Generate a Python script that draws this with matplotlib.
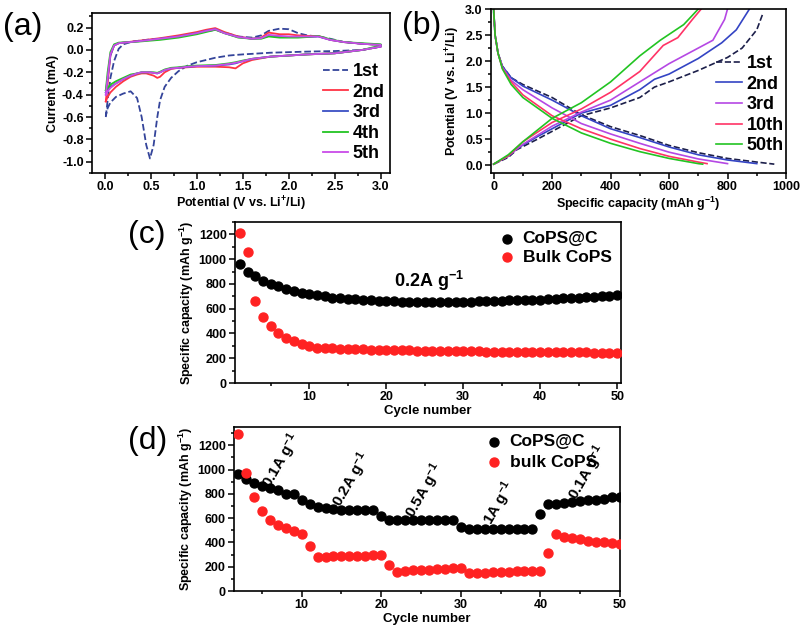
import matplotlib
matplotlib.use("Agg")
import matplotlib.pyplot as plt
from matplotlib.ticker import MultipleLocator

plt.rcParams['font.family'] = ['Liberation Sans', 'DejaVu Sans']
plt.rcParams['font.weight'] = 'bold'
plt.rcParams['axes.labelweight'] = 'bold'
plt.rcParams['mathtext.fontset'] = 'custom'
plt.rcParams['mathtext.rm'] = 'Liberation Sans:bold'
plt.rcParams['mathtext.it'] = 'Liberation Sans:bold'
plt.rcParams['mathtext.bf'] = 'Liberation Sans:bold'
plt.rcParams['mathtext.default'] = 'bf'

# ---- (a) cyclic voltammetry ----
cv_up_v = [0.01, 0.03, 0.06, 0.1, 0.15, 0.2, 0.3, 0.45, 0.6, 0.8, 1.0, 1.1, 1.2, 1.3,
           1.45, 1.6, 1.7, 1.78, 1.9, 2.0, 2.1, 2.2, 2.32, 2.45, 2.6, 2.8, 3.0]
cv_down_v = [3.0, 2.8, 2.5, 2.2, 2.0, 1.8, 1.6, 1.5, 1.42, 1.35, 1.2, 1.0, 0.9, 0.8, 0.72,
             0.65, 0.6, 0.57, 0.53, 0.49, 0.45, 0.4, 0.35, 0.28, 0.2, 0.12, 0.06, 0.03, 0.01]

cv1_up = [-0.6, -0.45, -0.25, -0.1, 0.01, 0.05, 0.075, 0.09, 0.1, 0.12, 0.15, 0.165, 0.18, 0.155,
          0.12, 0.11, 0.13, 0.17, 0.19, 0.185, 0.15, 0.13, 0.12, 0.1, 0.07, 0.055, 0.045]
cv1_down = [0.03, 0.0, -0.01, -0.015, -0.02, -0.025, -0.035, -0.04, -0.045, -0.05, -0.07, -0.11,
            -0.14, -0.19, -0.25, -0.33, -0.45, -0.6, -0.85, -0.97, -0.85, -0.6, -0.43, -0.37,
            -0.39, -0.42, -0.47, -0.52, -0.59]
cv2_up = [-0.46, -0.3, -0.05, 0.04, 0.06, 0.065, 0.075, 0.09, 0.105, 0.13, 0.16, 0.18, 0.195, 0.16,
          0.12, 0.1, 0.11, 0.155, 0.14, 0.14, 0.13, 0.125, 0.125, 0.09, 0.07, 0.055, 0.045]
cv2_down = [0.03, 0.0, -0.03, -0.04, -0.05, -0.06, -0.09, -0.12, -0.165, -0.155, -0.15, -0.15,
            -0.155, -0.16, -0.17, -0.2, -0.24, -0.25, -0.23, -0.22, -0.21, -0.21, -0.22, -0.24,
            -0.28, -0.33, -0.38, -0.42, -0.46]
cv3_up = [-0.38, -0.25, -0.05, 0.04, 0.06, 0.065, 0.072, 0.085, 0.1, 0.12, 0.15, 0.17, 0.185, 0.15,
          0.115, 0.1, 0.105, 0.125, 0.12, 0.115, 0.115, 0.115, 0.12, 0.09, 0.07, 0.055, 0.045]
cv3_down = [0.03, 0.0, -0.03, -0.04, -0.05, -0.06, -0.08, -0.1, -0.12, -0.13, -0.14, -0.145,
            -0.15, -0.16, -0.165, -0.18, -0.2, -0.21, -0.205, -0.2, -0.2, -0.2, -0.21, -0.23,
            -0.26, -0.3, -0.33, -0.36, -0.38]
cv4_up = [-0.36, -0.2, -0.02, 0.05, 0.065, 0.068, 0.07, 0.08, 0.09, 0.11, 0.14, 0.16, 0.18, 0.15,
          0.11, 0.1, 0.1, 0.12, 0.11, 0.11, 0.11, 0.115, 0.125, 0.095, 0.07, 0.06, 0.05]
cv4_down = [0.04, 0.0, -0.03, -0.04, -0.05, -0.06, -0.08, -0.095, -0.11, -0.12, -0.135, -0.14,
            -0.145, -0.155, -0.16, -0.175, -0.195, -0.205, -0.2, -0.2, -0.2, -0.2, -0.21, -0.22,
            -0.25, -0.28, -0.31, -0.34, -0.36]
cv5_up = [-0.4, -0.25, -0.04, 0.04, 0.06, 0.065, 0.072, 0.085, 0.1, 0.12, 0.15, 0.17, 0.185, 0.15,
          0.115, 0.1, 0.105, 0.135, 0.125, 0.12, 0.12, 0.12, 0.12, 0.09, 0.07, 0.055, 0.045]
cv5_down = [0.03, 0.0, -0.03, -0.04, -0.05, -0.06, -0.08, -0.1, -0.115, -0.125, -0.14, -0.145,
            -0.15, -0.16, -0.165, -0.18, -0.2, -0.21, -0.205, -0.2, -0.2, -0.2, -0.21, -0.23,
            -0.26, -0.3, -0.34, -0.37, -0.4]

# ---- (b) charge / discharge profiles ----
dis1_cap = [0, 5, 15, 30, 60, 100, 200, 300, 400, 500, 600, 700, 800, 900, 960]
dis1_v = [2.95, 2.5, 2.15, 1.9, 1.68, 1.55, 1.3, 0.97, 0.74, 0.57, 0.38, 0.24, 0.13, 0.06, 0.02]
chg1_cap = [0, 50, 80, 150, 250, 300, 400, 500, 550, 600, 700, 800, 850, 900, 920]
chg1_v = [0.02, 0.15, 0.3, 0.5, 0.8, 0.95, 1.1, 1.3, 1.5, 1.6, 1.82, 2.07, 2.25, 2.6, 2.9]

dis2_cap = [0, 5, 15, 30, 60, 100, 200, 300, 400, 500, 600, 700, 800, 900]
dis2_v = [3.0, 2.5, 2.15, 1.9, 1.68, 1.52, 1.25, 0.95, 0.7, 0.53, 0.35, 0.2, 0.1, 0.03]
chg2_cap = [0, 50, 80, 150, 250, 300, 400, 500, 550, 600, 700, 780, 830, 875]
chg2_v = [0.02, 0.17, 0.32, 0.55, 0.85, 1.0, 1.15, 1.45, 1.65, 1.75, 2.05, 2.35, 2.6, 3.0]

dis3_cap = [0, 5, 15, 30, 60, 100, 200, 300, 400, 500, 600, 700, 800]
dis3_v = [3.0, 2.5, 2.15, 1.88, 1.63, 1.45, 1.1, 0.8, 0.6, 0.42, 0.25, 0.12, 0.03]
chg3_cap = [0, 50, 100, 200, 300, 400, 500, 600, 700, 750, 790, 800]
chg3_v = [0.02, 0.18, 0.4, 0.75, 1.02, 1.25, 1.6, 1.95, 2.25, 2.4, 2.8, 3.0]

dis10_cap = [0, 5, 15, 30, 60, 100, 200, 300, 400, 500, 600, 700, 730]
dis10_v = [3.0, 2.5, 2.15, 1.86, 1.6, 1.35, 0.95, 0.7, 0.5, 0.32, 0.17, 0.06, 0.03]
chg10_cap = [0, 50, 100, 200, 300, 400, 500, 580, 630, 680, 710]
chg10_v = [0.02, 0.18, 0.45, 0.82, 1.08, 1.4, 1.8, 2.3, 2.45, 2.8, 3.0]

dis50_cap = [0, 5, 15, 30, 60, 100, 200, 300, 400, 500, 600, 700, 715]
dis50_v = [3.0, 2.5, 2.15, 1.85, 1.55, 1.3, 0.9, 0.62, 0.42, 0.26, 0.13, 0.03, 0.02]
chg50_cap = [0, 50, 100, 200, 300, 400, 500, 570, 650, 700]
chg50_v = [0.02, 0.2, 0.45, 0.9, 1.2, 1.6, 2.1, 2.4, 2.7, 3.0]

# ---- (c) cycling at 0.2 A/g ----
c_cycles = list(range(1, 51))
c_cops_c = [960, 900, 860, 825, 800, 780, 760, 745, 730, 715,
            708, 700, 690, 685, 680, 675, 670, 667, 663, 660,
            660, 658, 655, 653, 654, 655, 653, 653, 655, 657,
            658, 660, 662, 663, 665, 667, 668, 668, 670, 673,
            677, 680, 685, 688, 690, 695, 698, 700, 705, 712]
c_bulk = [1215, 1060, 665, 535, 460, 400, 360, 340, 315, 295,
          285, 283, 280, 275, 273, 272, 271, 270, 268, 266,
          265, 265, 263, 262, 260, 260, 260, 258, 257, 256,
          255, 255, 254, 253, 252, 252, 251, 250, 250, 250,
          249, 249, 248, 248, 247, 247, 246, 246, 246, 245]

# ---- (d) rate capability ----
d_cycles = list(range(2, 51))
d_cops_c = [960, 920, 885, 865, 850, 830, 800, 795, 750,
            715, 695, 680, 675, 665, 665, 665, 665, 665, 620,
            585, 585, 585, 585, 585, 585, 585, 585, 585, 530,
            510, 510, 510, 510, 510, 510, 510, 510, 510, 630,
            715, 720, 725, 730, 740, 745, 750, 755, 770, 775]
d_bulk = [1290, 975, 770, 660, 585, 545, 515, 490, 470,
          370, 280, 280, 290, 290, 290, 290, 290, 295, 295,
          215, 160, 165, 170, 175, 175, 180, 185, 190, 190,
          145, 145, 150, 155, 158, 160, 162, 163, 165, 168,
          310, 470, 445, 435, 425, 415, 405, 400, 395, 390]
rate_labels = ["0.1A g$^{-1}$", "0.2A g$^{-1}$", "0.5A g$^{-1}$", "1A g$^{-1}$", "0.1A g$^{-1}$"]
rate_label_x = [7.5, 16.3, 25.4, 34.8, 45.9]
rate_label_y = [1075, 917, 825, 725, 975]

W, H = 802, 626
fig = plt.figure(figsize=(W / 100, H / 100), dpi=100)


def px_axes(l, t, r, b):
    return fig.add_axes([l / W, 1 - b / H, (r - l) / W, (b - t) / H])


def style(ax):
    for s in ax.spines.values():
        s.set_linewidth(1.2)
    ax.tick_params(which='both', direction='out', width=1.1, labelsize=9, pad=2)
    ax.tick_params(which='major', length=4)
    ax.tick_params(which='minor', length=2)


def fig_legend(ax, x, y, **kw):
    return ax.legend(loc='upper left', bbox_to_anchor=(x / W, 1 - y / H),
                     bbox_transform=fig.transFigure, frameon=False,
                     borderpad=0, borderaxespad=0, **kw)


# (a)
ax = px_axes(92, 13, 390, 173)
ax.plot(cv_up_v + cv_down_v, cv1_up + cv1_down, '--', color='#34449a', lw=1.3, label='1st')
ax.plot(cv_up_v + cv_down_v, cv2_up + cv2_down, color='#ff3344', lw=1.3, label='2nd')
ax.plot(cv_up_v + cv_down_v, cv3_up + cv3_down, color='#3a4fc4', lw=1.3, label='3rd')
ax.plot(cv_up_v + cv_down_v, cv4_up + cv4_down, color='#22c422', lw=1.3, label='4th')
ax.plot(cv_up_v + cv_down_v, cv5_up + cv5_down, color='#c94be8', lw=1.3, label='5th')
ax.set_xlim(-0.14, 3.1)
ax.set_ylim(-1.1, 0.33)
ax.xaxis.set_minor_locator(MultipleLocator(0.25))
ax.yaxis.set_minor_locator(MultipleLocator(0.1))
ax.set_xticks([0, 0.5, 1.0, 1.5, 2.0, 2.5, 3.0])
ax.set_xticklabels(['0.0', '0.5', '1.0', '1.5', '2.0', '2.5', '3.0'])
ax.set_yticks([-1.0, -0.8, -0.6, -0.4, -0.2, 0.0, 0.2])
ax.set_yticklabels(['-1.0', '-0.8', '-0.6', '-0.4', '-0.2', '0.0', '0.2'])
style(ax)
ax.set_xlabel("Potential (V vs. Li$^{+}$/Li)", fontsize=9, labelpad=1)
ax.set_ylabel("Current (mA)", fontsize=9, labelpad=2)
fig_legend(ax, 323, 63, fontsize=13, handlelength=1.4, handletextpad=0.25, labelspacing=0.2)

# (b)
ax = px_axes(491, 9, 786, 173)
ax.plot(dis1_cap, dis1_v, '--', color='#1c1f4a', lw=1.2, label='1st')
ax.plot(chg1_cap, chg1_v, '--', color='#1c1f4a', lw=1.2)
ax.plot(dis2_cap, dis2_v, color='#3444c4', lw=1.2, label='2nd')
ax.plot(chg2_cap, chg2_v, color='#3444c4', lw=1.2)
ax.plot(dis3_cap, dis3_v, color='#b548e4', lw=1.2, label='3rd')
ax.plot(chg3_cap, chg3_v, color='#b548e4', lw=1.2)
ax.plot(dis10_cap, dis10_v, color='#ff3366', lw=1.2, label='10th')
ax.plot(chg10_cap, chg10_v, color='#ff3366', lw=1.2)
ax.plot(dis50_cap, dis50_v, color='#22c422', lw=1.2, label='50th')
ax.plot(chg50_cap, chg50_v, color='#22c422', lw=1.2)
ax.set_xlim(-9, 1000)
ax.set_ylim(-0.15, 3.0)
ax.xaxis.set_major_locator(MultipleLocator(200))
ax.xaxis.set_minor_locator(MultipleLocator(100))
ax.set_yticks([0, 0.5, 1.0, 1.5, 2.0, 2.5, 3.0])
ax.set_yticklabels(['0.0', '0.5', '1.0', '1.5', '2.0', '2.5', '3.0'])
ax.yaxis.set_minor_locator(MultipleLocator(0.25))
style(ax)
ax.set_xlabel("Specific capacity (mAh g$^{-1}$)", fontsize=9, labelpad=1)
ax.set_ylabel("Potential (V vs. Li$^{+}$/Li)", fontsize=9, labelpad=2)
fig_legend(ax, 716, 55, fontsize=13, handlelength=1.45, handletextpad=0.25, labelspacing=0.2)

# (c)
ax = px_axes(235, 222, 621, 383)
ax.scatter(c_cycles, c_cops_c, s=42, color='black', label='CoPS@C', zorder=3)
ax.scatter(c_cycles, c_bulk, s=42, color='#ff2222', label='Bulk CoPS', zorder=3)
ax.set_xlim(0.35, 50.5)
ax.set_ylim(0, 1300)
ax.xaxis.set_major_locator(MultipleLocator(10))
ax.xaxis.set_minor_locator(MultipleLocator(5))
ax.yaxis.set_major_locator(MultipleLocator(200))
ax.yaxis.set_minor_locator(MultipleLocator(100))
style(ax)
ax.set_xlabel("Cycle number", fontsize=9.5, labelpad=1)
ax.set_ylabel("Specific capacity (mAh g$^{-1}$)", fontsize=9, labelpad=2)
ax.text(25.6, 824, "0.2A g$^{-1}$", fontsize=13, ha='center', va='center')
fig_legend(ax, 500, 231, fontsize=12.5, handlelength=0.8, handletextpad=0.5,
           labelspacing=0.2, scatterpoints=1)

# (d)
ax = px_axes(234, 427, 620, 591)
ax.scatter(d_cycles, d_cops_c, s=42, color='black', label='CoPS@C', zorder=3)
ax.scatter(d_cycles, d_bulk, s=42, color='#ff2222', label='bulk CoPS', zorder=3)
ax.set_xlim(1.5, 50)
ax.set_ylim(0, 1350)
ax.xaxis.set_major_locator(MultipleLocator(10))
ax.xaxis.set_minor_locator(MultipleLocator(5))
ax.yaxis.set_major_locator(MultipleLocator(200))
ax.yaxis.set_minor_locator(MultipleLocator(100))
style(ax)
ax.set_xlabel("Cycle number", fontsize=9.5, labelpad=1)
ax.set_ylabel("Specific capacity (mAh g$^{-1}$)", fontsize=9, labelpad=2)
for lab, lx, ly in zip(rate_labels, rate_label_x, rate_label_y):
    ax.text(lx, ly, lab, fontsize=11, rotation=60, ha='center', va='center')
fig_legend(ax, 487, 434, fontsize=12.5, handlelength=0.8, handletextpad=0.5,
           labelspacing=0.3, scatterpoints=1)

# panel letters
for letter, x, y in [("(a)", 23, 27), ("(b)", 422, 26), ("(c)", 147, 235), ("(d)", 148, 441)]:
    fig.text(x / W, 1 - y / H, letter, fontsize=23, fontweight='normal',
             ha='center', va='center')

fig.savefig("out.png", dpi=100)
